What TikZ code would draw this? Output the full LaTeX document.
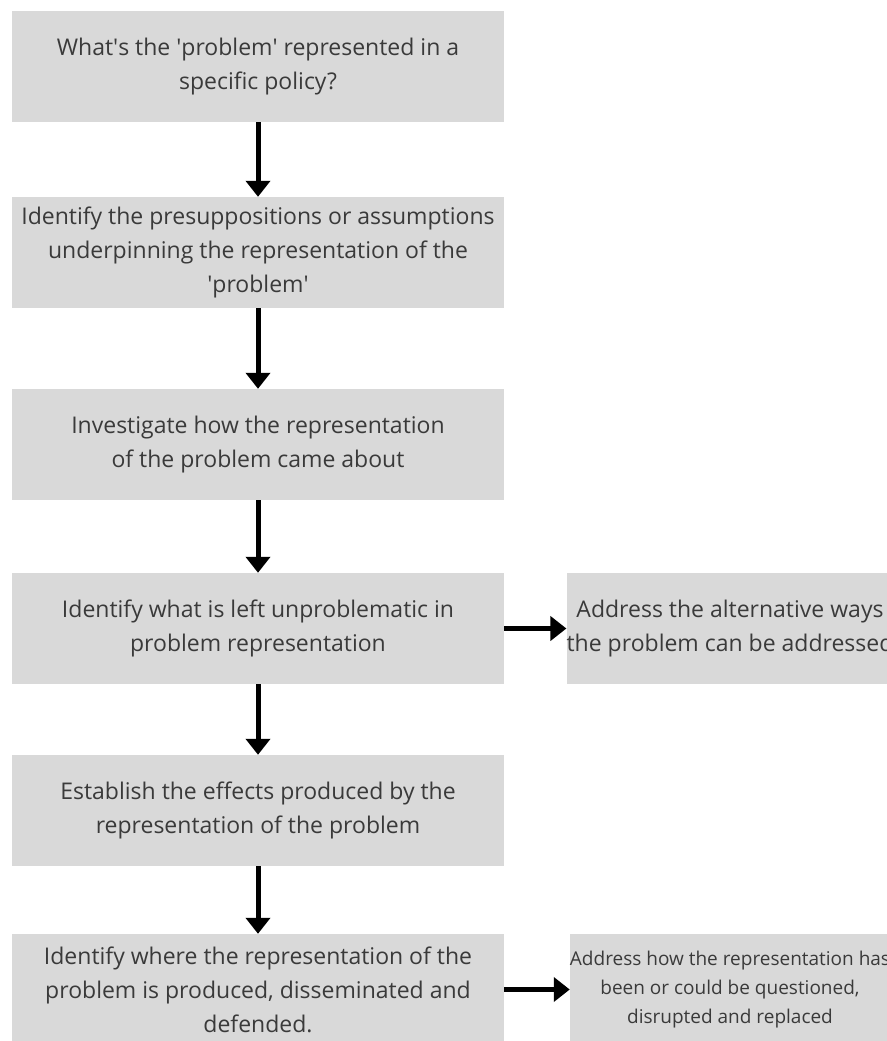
\documentclass[tikz,border=0pt]{standalone}
\usepackage{fontspec}
\setmainfont{Open Sans}
\usetikzlibrary{arrows.meta}
\definecolor{boxgray}{HTML}{D9D9D9}
\definecolor{textgray}{HTML}{3A3A3A}
\newcommand{\sq}{\textquotesingle}

\begin{document}
\begin{tikzpicture}[x=1pt, y=-1pt,
	stage/.style={fill=boxgray, text=textgray, minimum width=492pt, minimum height=111pt, inner sep=0pt, align=center, font=\fontsize{23}{34}\selectfont},
	side/.style={stage, minimum width=320pt},
	flow/.style={line width=5pt, -{Triangle[width=24pt,length=16pt]}}]
	\useasboundingbox (0,0) rectangle (886,1041);
	% main column
	\node[stage] (Q) at (258,66.5) {What\sq s the \sq problem\sq\ represented in a\\specific policy?};
	\node[stage] (P) at (258,252.5) {Identify the presuppositions or assumptions\\underpinning the representation of the\\\sq problem\sq};
	\node[stage] (H) at (258,444.5) {Investigate how the representation\\of the problem came about};
	\node[stage] (U) at (258,628.5) {Identify what is left unproblematic in\\problem representation};
	\node[stage] (E) at (258,810.5) {Establish the effects produced by the\\representation of the problem};
	\node[stage] (W) at (258,989.5) {Identify where the representation of the\\problem is produced, disseminated and\\defended.};
	% side boxes
	\node[side] (A) at (730,628.5) {Address the alternative ways\\the problem can be addressed};
	\node[side, font=\fontsize{19}{29}\selectfont] (D) at (730,989.5) {Address how the representation has\\been or could be questioned,\\disrupted and replaced};
	% arrows
	\draw[flow] (Q) -- (P);
	\draw[flow] (P) -- (H);
	\draw[flow] (H) -- (U);
	\draw[flow] (U) -- (E);
	\draw[flow] (E) -- (W);
	\draw[flow] (U) -- (A);
	\draw[flow] (W) -- (D);
\end{tikzpicture}
\end{document}
